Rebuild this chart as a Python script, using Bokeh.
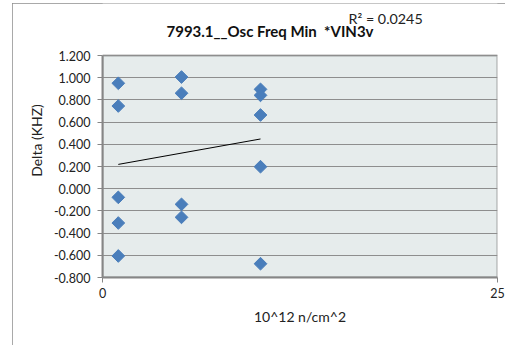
from bokeh.plotting import figure
from bokeh.models import (Range1d, FixedTicker, NumeralTickFormatter, Label,
                          BoxAnnotation, ColumnDataSource)
from bokeh.embed import file_html
from bokeh.resources import INLINE

# data
dose_x = [1, 1, 1, 1, 1, 5, 5, 5, 5, 10, 10, 10, 10, 10]
delta_y = [0.950, 0.745, -0.078, -0.309, -0.606,
           1.006, 0.860, -0.141, -0.258,
           0.895, 0.841, 0.664, 0.198, -0.676]
trend_x = [1, 10]
trend_y = [0.219, 0.448]
y_ticks = [-0.8, -0.6, -0.4, -0.2, 0.0, 0.2, 0.4, 0.6, 0.8, 1.0, 1.2]
x_ticks = [0, 25]
title_text = "7993.1__Osc Freq Min  *VIN3v"
r2_text = "R² = 0.0245"

FONT = "Lato"
X0, X1 = 0, 25
Y0, Y1 = -0.8, 1.2

# layout (page pixels)
OX, OY = 12, 3                      # chart box origin on the page
W, H = 505 - OX, 345 - OY
PL, PR, PT, PB = 102, 497, 55, 277  # plot-area edges
FL, FR, FB = PL - OX, PR - OX, PB - OY
# the frame extends up to the top of the chart box so that titles live inside it
y_per_px = (Y1 - Y0) / (PB - PT)
YTOP = Y1 + (PT - OY) * y_per_px
x_per_px = (X1 - X0) / (PR - PL)


def px_to_x(px):
    return X0 + (px - PL) * x_per_px


def px_to_y(py):
    return Y1 + (PT - py) * y_per_px


p = figure(width=W, height=H, output_backend="svg", toolbar_location=None,
           x_range=Range1d(X0, X1), y_range=Range1d(Y0, YTOP),
           min_border_left=FL, min_border_right=W - FR, min_border_top=0,
           min_border_bottom=H - FB)
p.margin = (OY, 0, 0, OX)
p.styles = {"outline": "1px solid #8C8C8C", "outline-offset": "-1px"}
p.title.visible = False

p.background_fill_color = "white"
p.border_fill_color = "white"
p.outline_line_color = None

# plot area
p.add_layout(BoxAnnotation(left=X0, right=X1, bottom=Y0, top=Y1,
                           fill_color="#E6ECEC", fill_alpha=1,
                           line_color="black", line_width=2, level="image"))

p.xgrid.grid_line_color = None
p.ygrid.grid_line_color = "#8E8E8E"
p.ygrid.grid_line_width = 1
p.ygrid.ticker = FixedTicker(ticks=y_ticks)

p.yaxis.ticker = FixedTicker(ticks=y_ticks)
p.yaxis.formatter = NumeralTickFormatter(format="0.000")
p.yaxis.bounds = (Y0, Y1)
p.xaxis.ticker = FixedTicker(ticks=x_ticks)

for ax in (p.xaxis, p.yaxis):
    ax.axis_line_color = "#868686"
    ax.axis_line_width = 2
    ax.major_tick_line_color = "#868686"
    ax.major_tick_out = 5
    ax.major_tick_in = 0
    ax.minor_tick_line_color = None
    ax.major_label_text_font = FONT
    ax.major_label_text_font_size = "12.5px"
    ax.major_label_text_color = "#222222"
    ax.axis_label_text_font = FONT
    ax.axis_label_text_font_size = "14px"
    ax.axis_label_text_font_style = "normal"
    ax.axis_label_text_color = "#222222"

p.yaxis.axis_label = "Delta (KHZ)"
p.xaxis.axis_label = "10^12 n/cm^2"
p.yaxis.major_label_standoff = 7
p.xaxis.major_label_standoff = 5
p.yaxis.axis_label_standoff = 6
p.xaxis.axis_label_standoff = 7

src = ColumnDataSource(dict(x=dose_x, y=delta_y))
p.scatter("x", "y", source=src, marker="square", angle=0.785398, size=9,
          fill_color="#4A7EBB", line_color="#4A7EBB")
p.line(trend_x, trend_y, line_color="black", line_width=1)

# chart title and R² label
p.add_layout(Label(x=px_to_x(166), y=px_to_y(30.5),
                   text=title_text.replace("  ", "\u00a0 "),
                   text_font=FONT, text_font_size="15px",
                   text_font_style="bold", text_align="left",
                   text_baseline="middle", text_color="#111111"))
p.add_layout(Label(x=px_to_x(348), y=px_to_y(17.5), text=r2_text,
                   text_font=FONT, text_font_size="14.3px",
                   text_align="left", text_baseline="middle",
                   text_color="#222222"))

open("out.html", "w").write(file_html(p, INLINE))
